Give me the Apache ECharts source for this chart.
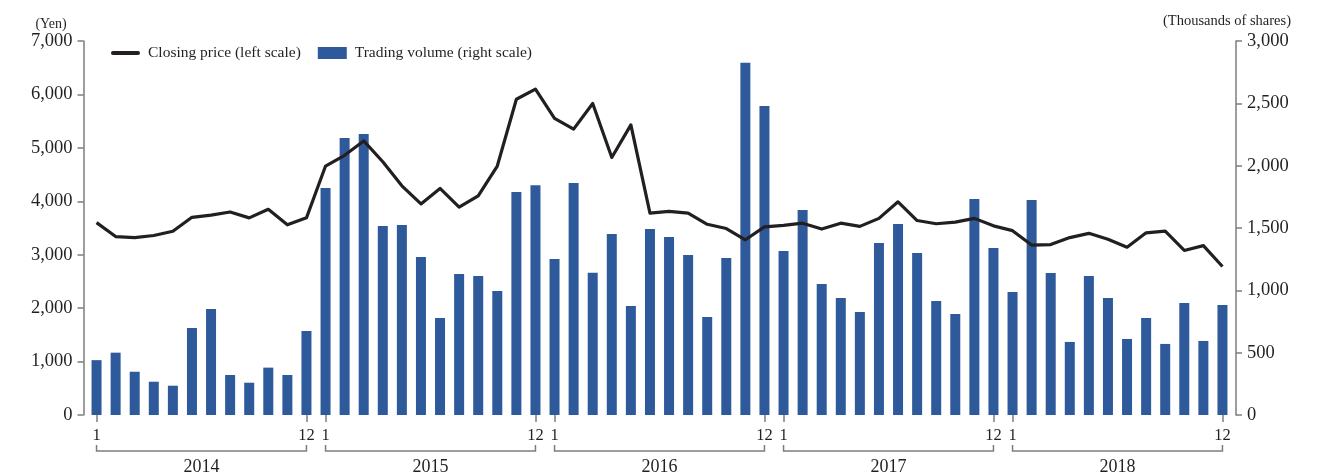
<!DOCTYPE html>
<html>
<head>
<meta charset="utf-8">
<script src="https://cdn.jsdelivr.net/npm/echarts@6/dist/echarts.min.js"></script>
<style>
  html, body { margin: 0; padding: 0; background: #fff; }
  #chart { width: 1325px; height: 475px; }
</style>
</head>
<body>
<div id="chart"></div>
<script>
// Monthly share data, January 2014 – December 2018
const years = ['2014', '2015', '2016', '2017', '2018'];
const monthLabels = ['1', '2', '3', '4', '5', '6', '7', '8', '9', '10', '11', '12'];

// Month-end closing price (yen)
const closingPrice2014 = [3600, 3340, 3320, 3360, 3440, 3700, 3740, 3800, 3690, 3850, 3560, 3690];
const closingPrice2015 = [4660, 4860, 5130, 4740, 4290, 3950, 4240, 3890, 4100, 4660, 5910, 6100];
const closingPrice2016 = [5550, 5350, 5830, 4820, 5430, 3780, 3810, 3780, 3570, 3490, 3280, 3520];
const closingPrice2017 = [3550, 3590, 3480, 3590, 3530, 3680, 3990, 3640, 3580, 3610, 3680, 3540];
const closingPrice2018 = [3450, 3180, 3190, 3320, 3400, 3290, 3140, 3410, 3440, 3080, 3170, 2780];

// Monthly trading volume (thousands of shares)
const volume2014 = [440, 500, 347, 267, 235, 698, 850, 321, 259, 380, 321, 674];
const volume2015 = [1821, 2222, 2254, 1516, 1524, 1267, 778, 1131, 1115, 995, 1789, 1842];
const volume2016 = [1251, 1861, 1142, 1452, 874, 1492, 1428, 1283, 786, 1259, 2826, 2478];
const volume2017 = [1315, 1644, 1051, 938, 826, 1380, 1532, 1299, 914, 810, 1733, 1339];
const volume2018 = [987, 1724, 1139, 586, 1115, 938, 610, 778, 570, 898, 594, 882];

const priceTicks = { min: 0, max: 7000, interval: 1000 };
const volumeTicks = { min: 0, max: 3000, interval: 500 };

const months = years.flatMap(() => monthLabels);
const closingPrice = [].concat(closingPrice2014, closingPrice2015, closingPrice2016, closingPrice2017, closingPrice2018);
const volume = [].concat(volume2014, volume2015, volume2016, volume2017, volume2018);
// Index span (first and last month) of each year, used for the year brackets
const yearSpans = years.map((y, i) => [i * 12, i * 12 + 11]);

const FONT = '"Liberation Serif", "DejaVu Serif", serif';
const TEXT = '#231f20';
const AXIS = '#7d7d7d';
const BLUE = '#2e5a9b';

const showMonth = (index) => index % 12 === 0 || index % 12 === 11;

const chart = echarts.init(document.getElementById('chart'));
chart.setOption({
  animation: false,
  backgroundColor: '#fff',
  textStyle: { fontFamily: FONT, color: TEXT },
  grid: { left: 87, right: 93, top: 41, bottom: 60 },
  legend: {
    left: 111,
    top: 45,
    padding: 0,
    itemWidth: 29,
    itemHeight: 12,
    itemGap: 17,
    textStyle: { fontFamily: FONT, fontSize: 15.5, color: TEXT, padding: [0, 0, 0, 3] },
    data: [
      { name: 'Closing price (left scale)', icon: 'path://M2,0H28A2,2 0 0 1 28,4H2A2,2 0 0 1 2,0Z' },
      { name: 'Trading volume (right scale)', icon: 'rect' }
    ]
  },
  graphic: [
    {
      type: 'text',
      x: 51, y: 24,
      style: { text: '(Yen)', font: '14px ' + FONT, fill: TEXT, textAlign: 'center', textVerticalAlign: 'middle' }
    },
    {
      type: 'text',
      x: 1227, y: 21,
      style: { text: '(Thousands of shares)', font: '14.5px ' + FONT, fill: TEXT, textAlign: 'center', textVerticalAlign: 'middle' }
    }
  ],
  xAxis: {
    type: 'category',
    data: months,
    boundaryGap: true,
    axisLine: { show: false },
    axisTick: {
      show: true,
      alignWithLabel: true,
      interval: showMonth,
      length: 7,
      lineStyle: { color: AXIS, width: 1.5 }
    },
    axisLabel: {
      interval: showMonth,
      margin: 12,
      fontFamily: FONT,
      fontSize: 16.5,
      color: TEXT
    },
    splitLine: { show: false }
  },
  yAxis: [
    {
      type: 'value',
      position: 'left',
      offset: 3.5,
      min: priceTicks.min,
      max: priceTicks.max,
      interval: priceTicks.interval,
      axisLine: { show: true, lineStyle: { color: AXIS, width: 1.5 } },
      axisTick: { show: true, length: 6, lineStyle: { color: AXIS, width: 1.5 } },
      axisLabel: {
        margin: 11,
        fontFamily: FONT,
        fontSize: 18.5,
        color: TEXT,
        formatter: (v) => v.toLocaleString('en-US')
      },
      splitLine: { show: false }
    },
    {
      type: 'value',
      position: 'right',
      offset: 4,
      min: volumeTicks.min,
      max: volumeTicks.max,
      interval: volumeTicks.interval,
      axisLine: { show: true, lineStyle: { color: AXIS, width: 1.5 } },
      axisTick: { show: true, length: 6, lineStyle: { color: AXIS, width: 1.5 } },
      axisLabel: {
        margin: 11,
        fontFamily: FONT,
        fontSize: 18.5,
        color: TEXT,
        formatter: (v) => v.toLocaleString('en-US')
      },
      splitLine: { show: false }
    }
  ],
  series: [
    {
      name: 'Trading volume (right scale)',
      type: 'bar',
      yAxisIndex: 1,
      barWidth: 10,
      itemStyle: { color: BLUE },
      data: volume,
      z: 1
    },
    {
      name: 'Closing price (left scale)',
      type: 'line',
      yAxisIndex: 0,
      symbol: 'none',
      lineStyle: { color: TEXT, width: 3.2, join: 'round' },
      itemStyle: { color: TEXT },
      data: closingPrice,
      z: 3
    },
    {
      // Year brackets beneath the month labels
      type: 'custom',
      yAxisIndex: 0,
      silent: true,
      clip: false,
      encode: { x: [0, 1] },
      data: yearSpans,
      renderItem: (params, api) => {
        const start = api.coord([api.value(0), 0]);
        const end = api.coord([api.value(1), 0]);
        const y0 = start[1];
        return {
          type: 'group',
          children: [
            {
              type: 'polyline',
              shape: {
                points: [
                  [start[0], y0 + 30],
                  [start[0], y0 + 36],
                  [end[0], y0 + 36],
                  [end[0], y0 + 30]
                ]
              },
              style: { stroke: AXIS, lineWidth: 1.5, fill: null }
            },
            {
              type: 'text',
              x: (start[0] + end[0]) / 2,
              y: y0 + 52,
              style: {
                text: years[params.dataIndex],
                font: '18px ' + FONT,
                fill: TEXT,
                textAlign: 'center',
                textVerticalAlign: 'middle'
              }
            }
          ]
        };
      }
    }
  ]
});
</script>
</body>
</html>
